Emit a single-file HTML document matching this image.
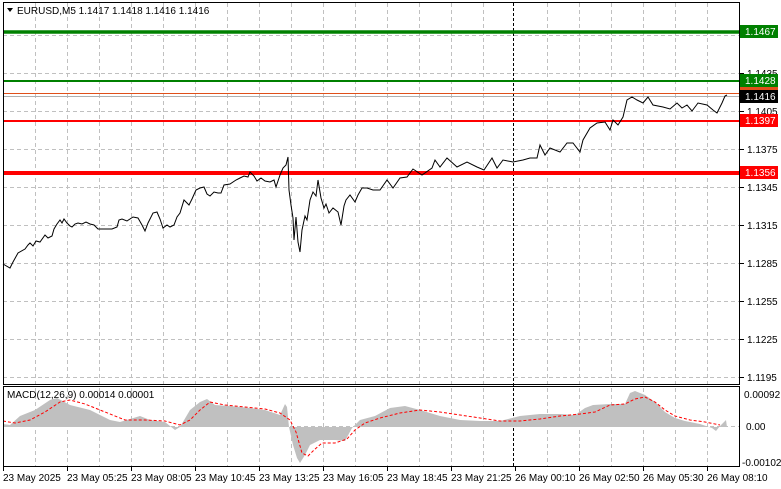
<!DOCTYPE html>
<html><head><meta charset="utf-8"><style>
html,body{margin:0;padding:0;background:#fff;}
svg{display:block;font-family:"Liberation Sans","DejaVu Sans",sans-serif;}
</style></head><body>
<svg width="781" height="489" viewBox="0 0 781 489" xmlns="http://www.w3.org/2000/svg">
<rect width="781" height="489" fill="#fff"/>
<!-- grid main -->
<g stroke="#c0c0c0" stroke-dasharray="4,3" stroke-width="1">
<line x1="3" y1="35.5" x2="740" y2="35.5"/><line x1="3" y1="73.5" x2="740" y2="73.5"/><line x1="3" y1="111.5" x2="740" y2="111.5"/><line x1="3" y1="149.5" x2="740" y2="149.5"/><line x1="3" y1="187.5" x2="740" y2="187.5"/><line x1="3" y1="225.5" x2="740" y2="225.5"/><line x1="3" y1="263.5" x2="740" y2="263.5"/><line x1="3" y1="301.5" x2="740" y2="301.5"/><line x1="3" y1="339.5" x2="740" y2="339.5"/><line x1="3" y1="377.5" x2="740" y2="377.5"/>
<line x1="3" y1="426.5" x2="740" y2="426.5"/>
</g>
<g stroke="#c0c0c0" stroke-dasharray="4,3" stroke-width="1" id="vg">
<line x1="35.5" y1="3" x2="35.5" y2="466"/><line x1="67.5" y1="3" x2="67.5" y2="466"/><line x1="99.5" y1="3" x2="99.5" y2="466"/><line x1="131.5" y1="3" x2="131.5" y2="466"/><line x1="163.5" y1="3" x2="163.5" y2="466"/><line x1="195.5" y1="3" x2="195.5" y2="466"/><line x1="227.5" y1="3" x2="227.5" y2="466"/><line x1="259.5" y1="3" x2="259.5" y2="466"/><line x1="291.5" y1="3" x2="291.5" y2="466"/><line x1="323.5" y1="3" x2="323.5" y2="466"/><line x1="355.5" y1="3" x2="355.5" y2="466"/><line x1="387.5" y1="3" x2="387.5" y2="466"/><line x1="419.5" y1="3" x2="419.5" y2="466"/><line x1="451.5" y1="3" x2="451.5" y2="466"/><line x1="483.5" y1="3" x2="483.5" y2="466"/><line x1="547.5" y1="3" x2="547.5" y2="466"/><line x1="579.5" y1="3" x2="579.5" y2="466"/><line x1="611.5" y1="3" x2="611.5" y2="466"/><line x1="643.5" y1="3" x2="643.5" y2="466"/><line x1="675.5" y1="3" x2="675.5" y2="466"/><line x1="707.5" y1="3" x2="707.5" y2="466"/>
</g>
<line x1="513.5" y1="3" x2="513.5" y2="466" stroke="#000" stroke-dasharray="3,2"/>
<!-- levels -->
<line x1="3" y1="32" x2="740" y2="32" stroke="#008000" stroke-width="3.5"/>
<line x1="3" y1="81" x2="740" y2="81" stroke="#008000" stroke-width="2"/>
<line x1="3" y1="93.5" x2="740" y2="93.5" stroke="#e0501a" stroke-width="1"/>
<line x1="3" y1="96.5" x2="740" y2="96.5" stroke="#b0b0b0" stroke-width="1"/>
<line x1="3" y1="121" x2="740" y2="121" stroke="#ff0000" stroke-width="2"/>
<line x1="3" y1="173" x2="740" y2="173" stroke="#ff0000" stroke-width="4"/>
<!-- price -->
<polyline fill="none" stroke="#000" stroke-width="1" points="3,264 10,268 13,262 18,253 25,249 28,245 30,243 33,246 36,241 40,242 45,235 48,238 52,236 54,229 57,224 60,220 62,223 64,219 67,223 70,226 72,227 75,224 78,223 82,224 86,222 90,224 94,225 98,229 102,229 107,229 112,229 117,227 119,220 122,219 127,221 133,217 138,218 142,225 145,231 148,223 153,213 157,212 160,219 163,228 167,225 170,227 174,225 177,217 180,213 184,200 189,205 192,199 196,190 200,188 204,187 207,194 210,196 214,192 218,193 221,193 224,185 230,184 236,180 240,178 244,176 248,177 250,172 254,176 257,181 261,178 265,181 270,182 274,180 276,187 280,175 283,168 286,165 288,157 289,190 291,205 293,218 294,240 296,217 298,242 300,252 302,230 305,216 307,220 310,200 313,192 316,196 318,180 321,198 324,208 326,204 329,213 333,208 338,212 341,225 344,206 346,200 350,195 355,202 358,195 362,188 367,188 373,190 380,190 387,180 393,188 400,178 407,177 413,169 422,175 432,168 435,160 440,167 447,158 457,167 467,162 477,167 484,170 492,158 497,168 503,160 513,162 523,160 530,158 537,158 540,145 545,155 550,148 560,152 567,143 573,143 580,152 583,140 590,128 597,123 605,122 610,130 613,120 618,125 623,117 627,100 632,97 637,100 643,103 648,97 653,105 663,107 670,109 677,103 682,108 687,105 692,111 698,103 707,105 713,110 717,113 722,103 725,96 727,95"/>
<!-- MACD histogram -->
<polygon fill="#c0c0c0" points="3,427 3,424 10,425 20,416 35,410 50,400 57,398 70,405 90,410 110,420 120,422 140,416 150,420 165,422 175,430 180,427 190,410 200,402 207,399 215,405 230,406 250,408 265,410 280,415 285,404 287,407 289,427 293,445 297,458 300,463 305,455 310,445 320,440 335,440 345,441 352,428 360,420 375,416 390,408 405,406 420,410 440,416 460,420 480,421 500,421 520,416 540,414 560,414 575,415 585,408 593,405 610,404 625,404 630,393 635,391 645,395 655,402 665,412 675,418 685,421 700,424 712,428 716,431 720,426 726,420 727,427"/>
<polyline fill="none" stroke="#ff0000" stroke-dasharray="3,2" stroke-width="1" points="3,421 15,423 30,420 45,412 60,402 70,400 85,404 105,412 125,420 145,420 165,421 180,425 190,420 200,410 210,402 225,405 245,407 265,409 280,413 290,420 296,432 302,453 308,456 314,450 322,443 335,443 347,439 355,430 365,423 380,418 400,413 420,410 440,412 460,415 480,418 500,421 520,421 540,419 560,416 580,414 595,412 610,405 625,404 635,399 645,397 655,402 665,410 675,416 690,420 705,422 720,425"/>
<!-- frames -->
<rect x="3.5" y="2.5" width="736" height="382" fill="none" stroke="#000"/>
<rect x="3.5" y="386.5" width="736" height="80" fill="none" stroke="#000"/>
<!-- right ticks -->
<g stroke="#000"><line x1="740" y1="73.5" x2="744" y2="73.5"/><line x1="740" y1="111.5" x2="744" y2="111.5"/><line x1="740" y1="149.5" x2="744" y2="149.5"/><line x1="740" y1="187.5" x2="744" y2="187.5"/><line x1="740" y1="225.5" x2="744" y2="225.5"/><line x1="740" y1="263.5" x2="744" y2="263.5"/><line x1="740" y1="301.5" x2="744" y2="301.5"/><line x1="740" y1="339.5" x2="744" y2="339.5"/><line x1="740" y1="377.5" x2="744" y2="377.5"/>
<line x1="3.5" y1="467" x2="3.5" y2="471"/><line x1="67.5" y1="467" x2="67.5" y2="471"/><line x1="131.5" y1="467" x2="131.5" y2="471"/><line x1="195.5" y1="467" x2="195.5" y2="471"/><line x1="259.5" y1="467" x2="259.5" y2="471"/><line x1="323.5" y1="467" x2="323.5" y2="471"/><line x1="387.5" y1="467" x2="387.5" y2="471"/><line x1="451.5" y1="467" x2="451.5" y2="471"/><line x1="515.5" y1="467" x2="515.5" y2="471"/><line x1="579.5" y1="467" x2="579.5" y2="471"/><line x1="643.5" y1="467" x2="643.5" y2="471"/><line x1="707.5" y1="467" x2="707.5" y2="471"/></g>
<g font-size="10" fill="#000">
<text x="747" y="77">1.1435</text><text x="747" y="115">1.1405</text><text x="747" y="153">1.1375</text><text x="747" y="191">1.1345</text><text x="747" y="229">1.1315</text><text x="747" y="267">1.1285</text><text x="747" y="305">1.1255</text><text x="747" y="343">1.1225</text><text x="747" y="381">1.1195</text>
<text x="744" y="398">0.00092</text><text x="746" y="430">0.00</text><text x="742" y="466">-0.00102</text>
</g>
<!-- price labels -->
<rect x="740" y="25" width="38" height="13" fill="#008000"/><text x="745" y="35" font-size="10" fill="#fff">1.1467</text>
<rect x="740" y="74" width="38" height="13" fill="#008000"/><text x="745" y="84" font-size="10" fill="#fff">1.1428</text>
<rect x="740" y="87" width="38" height="6" fill="#e0501a"/>
<rect x="740" y="90" width="38" height="13" fill="#000"/><text x="745" y="100" font-size="10" fill="#fff">1.1416</text>
<rect x="740" y="114" width="38" height="13" fill="#ff0000"/><text x="745" y="124" font-size="10" fill="#fff">1.1397</text>
<rect x="740" y="166" width="38" height="13" fill="#ff0000"/><text x="745" y="176" font-size="10" fill="#fff">1.1356</text>
<!-- title -->
<polygon points="7,8 13,8 10,12" fill="#000"/>
<text x="17" y="14" font-size="10" fill="#000">EURUSD,M5  1.1417 1.1418 1.1416 1.1416</text>
<text x="7" y="398" font-size="10" fill="#000">MACD(12,26,9) 0.00014 0.00001</text>
<!-- dates -->
<g font-size="10" fill="#000">
<text x="3" y="481">23 May 2025</text><text x="67" y="481">23 May 05:25</text><text x="131" y="481">23 May 08:05</text><text x="195" y="481">23 May 10:45</text><text x="259" y="481">23 May 13:25</text><text x="323" y="481">23 May 16:05</text><text x="387" y="481">23 May 18:45</text><text x="451" y="481">23 May 21:25</text><text x="515" y="481">26 May 00:10</text><text x="579" y="481">26 May 02:50</text><text x="643" y="481">26 May 05:30</text><text x="707" y="481">26 May 08:10</text>
</g>
</svg>
</body></html>
